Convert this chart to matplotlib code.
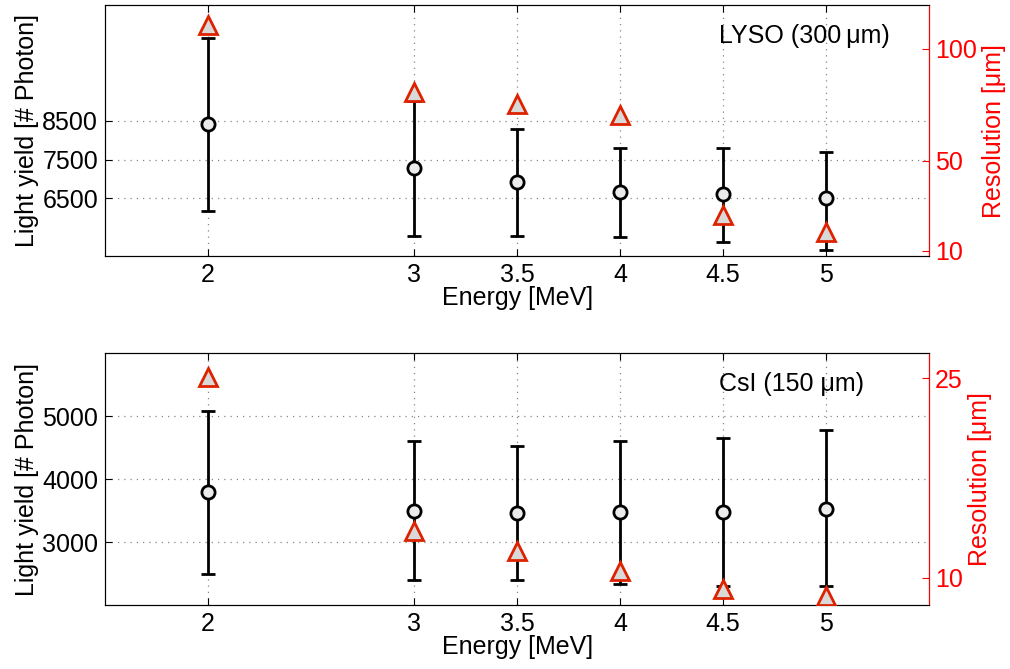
import matplotlib
matplotlib.use('Agg')
import matplotlib.pyplot as plt

plt.rcParams['font.family'] = ['Liberation Sans', 'DejaVu Sans']

energy = [2, 3, 3.5, 4, 4.5, 5]
xticks = [2, 3, 3.5, 4, 4.5, 5]
xticklabels = ['2', '3', '3.5', '4', '4.5', '5']

# LYSO (300 um)
lyso_ly = [8410, 7290, 6915, 6655, 6600, 6500]
lyso_lo = [6160, 5520, 5520, 5500, 5380, 5165]
lyso_hi = [10640, 9020, 8300, 7810, 7810, 7700]
lyso_res = [110.5, 80.5, 75.5, 70.5, 26, 18.5]

# CsI (150 um)
csi_ly = [3790, 3498, 3462, 3478, 3472, 3525]
csi_lo = [2485, 2390, 2400, 2340, 2300, 2300]
csi_hi = [5085, 4606, 4522, 4606, 4650, 4775]
csi_res = [25.1, 13.5, 12.0, 10.5, 9.15, 8.65]

RED = '#ff0000'
TRI = '#dd2200'
FS = 18


def panel(ax, ly, lo, hi, res, ylim, yticks, rlim, rticks, title):
    yerr = [[m - l for m, l in zip(ly, lo)], [h - m for m, h in zip(ly, hi)]]
    ax.errorbar(energy, ly, yerr=yerr, fmt='o', color='black', ecolor='black',
                elinewidth=2, capsize=5, capthick=2, markersize=9.5,
                markerfacecolor='#ebebeb', markeredgecolor='black',
                markeredgewidth=2, zorder=3)
    ax.set_xlim(1.5, 5.5)
    ax.set_ylim(*ylim)
    ax.set_xticks(xticks)
    ax.set_xticklabels(xticklabels)
    ax.set_yticks(yticks)
    ax.grid(True, linestyle=(0, (1, 4)), color='#888888', linewidth=0.9)
    ax.tick_params(direction='in', labelsize=FS, length=5, top=True, pad=5)
    ax.set_xlabel('Energy [MeV]', fontsize=FS, labelpad=-1)
    ax.set_ylabel('Light yield [# Photon]', fontsize=FS, labelpad=2)
    ax.text(0.745, 0.876, title, transform=ax.transAxes, ha='left',
            va='center', fontsize=FS)

    ax2 = ax.twinx()
    ax2.plot(energy, res, linestyle='none', marker='^', markersize=13,
             markerfacecolor='#d9d9d9', markeredgecolor=TRI,
             markeredgewidth=2, zorder=4)
    ax2.set_ylim(*rlim)
    ax2.set_yticks(rticks)
    ax2.tick_params(direction='in', colors=RED, labelsize=FS, length=5, pad=4)
    ax2.spines['right'].set_color(RED)
    ax2.set_ylabel('Resolution [μm]', color=RED, fontsize=FS, labelpad=4)
    return ax2


fig = plt.figure(figsize=(10.1, 6.69), dpi=100)
ax_top = fig.add_axes([0.104, 0.617, 0.816, 0.3755])
ax_bot = fig.add_axes([0.104, 0.0957, 0.816, 0.3763])

panel(ax_top, lyso_ly, lyso_lo, lyso_hi, lyso_res, (5000, 11500),
      [6500, 7500, 8500], (7.5, 119.5), [10, 50, 100],
      'LYSO (300\u2009μm)')
panel(ax_bot, csi_ly, csi_lo, csi_hi, csi_res, (2000, 6000),
      [3000, 4000, 5000], (7.95, 26.9), [10, 25],
      'CsI (150 μm)')

fig.savefig('out.png', dpi=100)
